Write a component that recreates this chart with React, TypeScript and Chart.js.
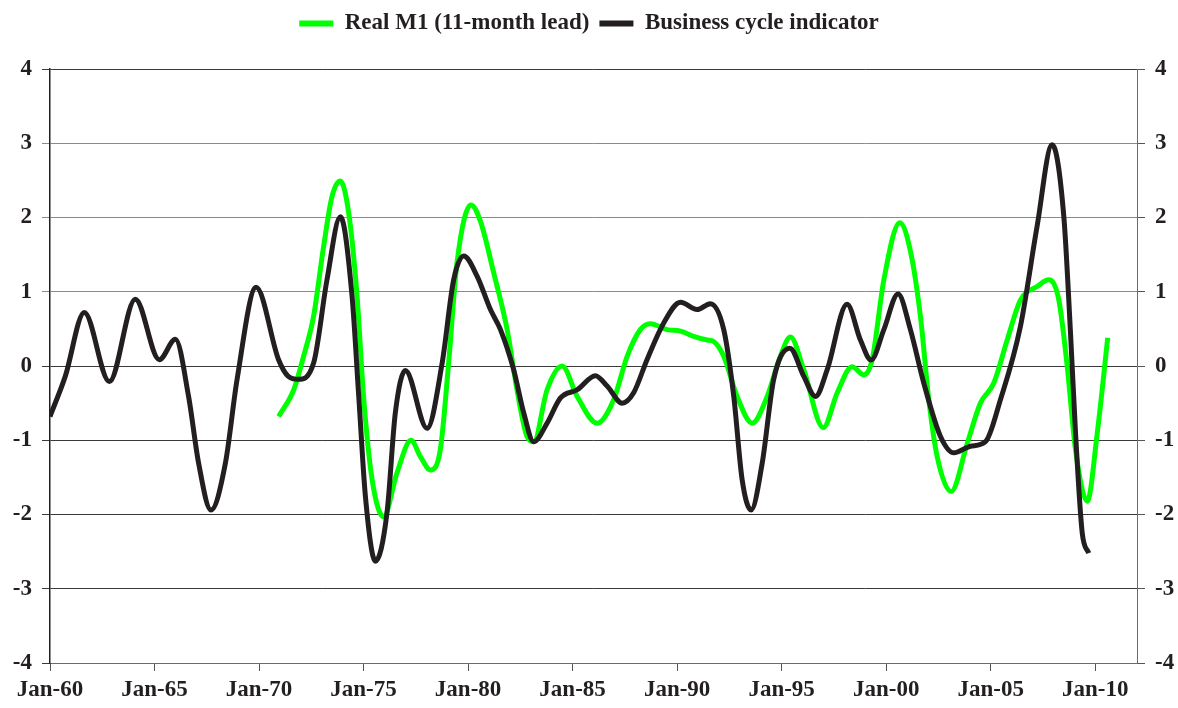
import React, { useEffect, useRef } from 'react';
import { Chart, registerables } from 'chart.js';

Chart.register(...registerables);

// Business cycle indicator (decimal year, value)
const bciYears = [
  1960.0, 1960.73, 1961.64, 1962.84, 1964.08, 1965.23, 1966.0, 1966.63, 1967.11, 1967.7,
  1968.39, 1968.95, 1969.86, 1970.94, 1971.4, 1971.89, 1972.61, 1973.25, 1973.89, 1974.45, 1974.77,
  1975.09, 1975.57, 1976.12, 1976.52, 1977.0, 1978.04, 1978.76, 1979.31, 1979.79, 1980.43,
  1981.07, 1981.55, 1982.18, 1982.66, 1983.14, 1983.78, 1984.42, 1985.22, 1986.09, 1986.65,
  1987.37, 1987.92, 1988.56, 1989.36, 1990.16, 1990.96, 1991.59, 1992.23, 1992.71, 1993.11,
  1993.54, 1994.07, 1994.62, 1995.39, 1996.06, 1996.62, 1997.18, 1998.13, 1998.77, 1999.28,
  1999.89, 2000.57, 2001.16, 2001.8, 2002.6, 2003.24, 2004.03, 2004.75, 2005.47, 2006.42,
  2007.22, 2007.94, 2008.5, 2008.82, 2009.06, 2009.38, 2009.69,
];
const bciValues = [
  -0.68, -0.14, 0.72, -0.21, 0.9, 0.085, 0.36, -0.41, -1.31, -1.94,
  -1.31, -0.18, 1.06, 0.08, -0.14, -0.18, 0.04, 1.16, 2.01, 0.94, -0.41,
  -1.76, -2.63, -1.98, -0.63, -0.06, -0.84, 0.04, 1.16, 1.48, 1.21,
  0.76, 0.49, -0.05, -0.63, -1.02, -0.77, -0.43, -0.32, -0.13, -0.27,
  -0.5, -0.36, 0.085, 0.58, 0.86, 0.76, 0.84, 0.49, -0.41, -1.53,
  -1.94, -1.31, -0.18, 0.24, -0.14, -0.41, -0.05, 0.83, 0.35, 0.08,
  0.49, 0.97, 0.49, -0.23, -0.95, -1.17, -1.08, -1.02, -0.45, 0.53,
  1.88, 2.98, 2.01, 0.44, -0.9, -2.25, -2.52,
];

// Real M1 (11-month lead)
const m1Years = [
  1970.94, 1971.66, 1972.13, 1972.61, 1973.09, 1973.49, 1973.89, 1974.29, 1974.69, 1975.0,
  1975.41, 1975.96, 1976.6, 1977.27, 1977.72, 1978.2, 1978.67, 1979.07, 1979.47, 1980.14,
  1980.59, 1981.23, 1981.87, 1982.34, 1982.82, 1983.14, 1983.78, 1984.5, 1985.22, 1986.17,
  1986.97, 1987.61, 1988.24, 1988.72, 1989.52, 1990.16, 1990.79, 1991.44, 1991.75, 1992.23,
  1992.87, 1993.59, 1994.31, 1994.94, 1995.42, 1996.06, 1996.99, 1997.66, 1998.37, 1998.93,
  1999.33, 1999.89, 2000.65, 2001.16, 2001.64, 2002.04, 2002.44, 2003.11, 2003.88, 2004.51,
  2005.15, 2005.79, 2006.43, 2007.22, 2007.78, 2008.26, 2008.66, 2009.06, 2009.62, 2010.1,
  2010.6,
];
const m1Values = [
  -0.68, -0.32, 0.13, 0.67, 1.61, 2.28, 2.49, 2.06, 0.94, -0.41,
  -1.53, -2.03, -1.44, -1.0, -1.22, -1.4, -1.13, 0.04, 1.39, 2.17,
  1.95, 1.25, 0.49, -0.32, -0.95, -1.02, -0.32, 0.0, -0.41, -0.77,
  -0.45, 0.13, 0.49, 0.57, 0.49, 0.47, 0.4, 0.35, 0.33, 0.13,
  -0.41, -0.77, -0.41, 0.13, 0.39, -0.05, -0.83, -0.36, -0.01, -0.12,
  0.085, 1.16, 1.93, 1.55, 0.67, -0.45, -1.22, -1.69, -1.04, -0.5,
  -0.23, 0.35, 0.89, 1.07, 1.16, 0.89, 0.0, -1.13, -1.82, -0.9,
  0.38,
];

const xTickYears = [1960, 1965, 1970, 1975, 1980, 1985, 1990, 1995, 2000, 2005, 2010];
const yMin = -4;
const yMax = 4;

const FONT = { family: '"Liberation Serif", "Times New Roman", serif', size: 23, weight: 'bold' as const };

export default function App() {
  const ref = useRef<HTMLCanvasElement>(null);

  useEffect(() => {
    if (!ref.current) return;
    const gridColor = (ctx: any) => {
      const v = ctx.tick ? ctx.tick.value : 0;
      return v >= 1 && v <= 3 ? '#8a8a8a' : '#3a3a3a';
    };
    const chart = new Chart(ref.current, {
      type: 'line',
      data: {
        datasets: [
          {
            label: 'Business cycle indicator',
            data: bciYears.map((x, i) => ({ x, y: bciValues[i] })),
            borderColor: '#231f20',
            backgroundColor: '#231f20',
            borderWidth: 5,
            pointRadius: 0,
            cubicInterpolationMode: 'monotone',
            fill: false,
          },
          {
            label: 'Real M1 (11-month lead)',
            data: m1Years.map((x, i) => ({ x, y: m1Values[i] })),
            borderColor: '#00ff00',
            backgroundColor: '#00ff00',
            borderWidth: 5,
            pointRadius: 0,
            cubicInterpolationMode: 'monotone',
            fill: false,
          },
        ],
      },
      options: {
        animation: false,
        responsive: false,
        layout: { padding: { top: 2, left: 0, right: 0, bottom: 0 } },
        plugins: {
          tooltip: { enabled: false },
          legend: {
            display: true,
            position: 'top',
            reverse: true,
            labels: {
              font: FONT,
              color: '#231f20',
              boxWidth: 34,
              boxHeight: 6,
              padding: 10,
              generateLabels: (c: any) =>
                Chart.defaults.plugins.legend.labels.generateLabels(c).map((l: any) => ({
                  ...l,
                  lineWidth: 0,
                  fillStyle: l.strokeStyle,
                })),
            },
          },
        },
        scales: {
          x: {
            type: 'linear',
            position: 'bottom',
            min: 1960,
            max: 2012,
            afterBuildTicks: (s: any) => {
              s.ticks = xTickYears.map((v) => ({ value: v }));
            },
            ticks: {
              font: FONT,
              color: '#231f20',
              padding: 5,
              maxRotation: 0,
              autoSkip: false,
              callback: (v: any) => 'Jan-' + String(Number(v) % 100).padStart(2, '0'),
            },
            grid: { drawOnChartArea: false, drawTicks: true, tickLength: 8, color: '#555', lineWidth: 1 },
            border: { display: true, color: '#6a6a6a', width: 1 },
            afterFit: (s: any) => {
              s.height = 45;
            },
          },
          xTop: {
            type: 'linear',
            position: 'top',
            min: 1960,
            max: 2012,
            ticks: { display: false },
            grid: { display: false },
            border: { display: false },
            afterFit: (s: any) => {
              s.height = 24;
            },
          },
          y: {
            type: 'linear',
            position: 'left',
            min: yMin,
            max: yMax,
            ticks: { stepSize: 1, font: FONT, color: '#231f20', padding: 10 },
            grid: { color: gridColor, lineWidth: 1, tickLength: 8 },
            border: { color: '#231f20', width: 1.5 },
            afterFit: (s: any) => {
              s.width = 50;
            },
          },
          y2: {
            type: 'linear',
            position: 'right',
            min: yMin,
            max: yMax,
            ticks: { stepSize: 1, font: FONT, color: '#231f20', padding: 10 },
            grid: { drawOnChartArea: false, tickLength: 8, color: '#555' },
            border: { color: '#6a6a6a', width: 1 },
            afterFit: (s: any) => {
              s.width = 41;
            },
          },
        },
      },
    } as any);
    return () => chart.destroy();
  }, []);

  return (
    <div style={{ position: 'fixed', left: 0, top: 0, width: 1178, height: 708, background: '#fff' }}>
      <canvas ref={ref} width={1178} height={708} style={{ display: 'block' }} />
    </div>
  );
}
